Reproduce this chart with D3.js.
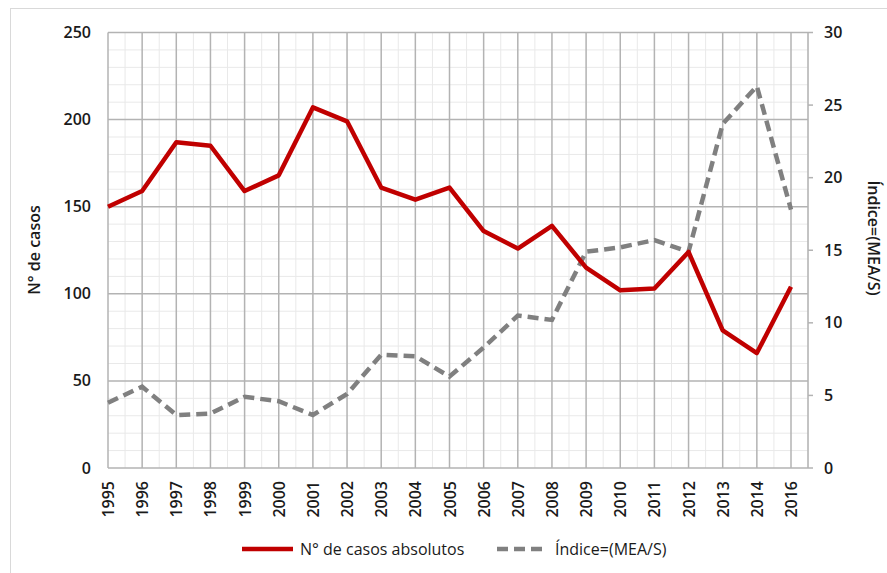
<!DOCTYPE html>
<html>
<head>
<meta charset="utf-8">
<script src="https://cdn.jsdelivr.net/npm/d3@7"></script>
<style>
  body { margin: 0; background: #fff; }
  svg { display: block; font-family: "Open Sans", "Noto Sans", sans-serif; }
</style>
</head>
<body>
<svg id="chart" width="887" height="573"></svg>
<script>
// Casos absolutos vs índice MEA/S
const years = ['1995', '1996', '1997', '1998', '1999', '2000', '2001', '2002', '2003', '2004',
    '2005', '2006', '2007', '2008', '2009', '2010', '2011', '2012', '2013', '2014', '2016'];
const casos = [150, 159, 187, 185, 159, 168, 207, 199, 161, 154,
    161, 136, 126, 139, 115, 102, 103, 124, 79, 66, 104];
const indice = [4.5, 5.6, 3.65, 3.75, 4.9, 4.6, 3.65, 5.1, 7.8, 7.7,
    6.3, 8.3, 10.5, 10.2, 14.9, 15.2, 15.7, 14.9, 23.7, 26.3, 17.8];
const leftTicks = [0, 50, 100, 150, 200, 250];
const rightTicks = [0, 5, 10, 15, 20, 25, 30];

const svg = d3.select('#chart');

const plot = { left: 108, right: 808, top: 32.5, bottom: 468 };

// outer frame
svg.append('rect')
    .attr('x', 10.5).attr('y', 8.5)
    .attr('width', 900).attr('height', 600)
    .attr('fill', 'none')
    .attr('stroke', '#d9d9d9');

const x = d3.scalePoint()
    .domain(years)
    .range([plot.left, plot.left + 20 * 34.15]);
const step = x.step();

const yL = d3.scaleLinear().domain([0, 250]).range([plot.bottom, plot.top]);
const yR = d3.scaleLinear().domain([0, 30]).range([plot.bottom, plot.top]);

const grid = svg.append('g');

// minor horizontal gridlines
grid.selectAll('.hminor')
    .data(d3.range(0, 251, 10).filter(v => v % 50 !== 0))
    .enter().append('line')
    .attr('x1', plot.left).attr('x2', plot.right)
    .attr('y1', d => yL(d)).attr('y2', d => yL(d))
    .attr('stroke', '#e9e9e9').attr('stroke-width', 1);

// minor vertical gridlines (half-year)
grid.selectAll('.vminor')
    .data(years)
    .enter().append('line')
    .attr('x1', d => x(d) + step / 2).attr('x2', d => x(d) + step / 2)
    .attr('y1', plot.top).attr('y2', plot.bottom)
    .attr('stroke', '#e9e9e9').attr('stroke-width', 1);

// major horizontal gridlines
grid.selectAll('.hmajor')
    .data(leftTicks)
    .enter().append('line')
    .attr('x1', plot.left).attr('x2', plot.right)
    .attr('y1', d => yL(d)).attr('y2', d => yL(d))
    .attr('stroke', '#b3b3b3').attr('stroke-width', 1.5);

// major vertical gridlines
grid.selectAll('.vmajor')
    .data(years)
    .enter().append('line')
    .attr('x1', d => x(d)).attr('x2', d => x(d))
    .attr('y1', plot.top).attr('y2', plot.bottom)
    .attr('stroke', '#b3b3b3').attr('stroke-width', 1.5);

// right axis line + ticks
svg.append('line')
    .attr('x1', plot.right).attr('x2', plot.right)
    .attr('y1', plot.top).attr('y2', plot.bottom)
    .attr('stroke', '#b3b3b3').attr('stroke-width', 1.5);
svg.selectAll('.rtick')
    .data(rightTicks)
    .enter().append('line')
    .attr('x1', plot.right).attr('x2', plot.right + 5)
    .attr('y1', d => yR(d)).attr('y2', d => yR(d))
    .attr('stroke', '#b3b3b3').attr('stroke-width', 1.5);

// tick labels
svg.selectAll('.llab')
    .data(leftTicks)
    .enter().append('text')
    .attr('x', 91).attr('y', d => yL(d) + 5.5)
    .attr('text-anchor', 'end')
    .attr('font-size', '16px').attr('font-weight', 600)
    .attr('fill', '#1a1a1a')
    .text(d => d);

svg.selectAll('.rlab')
    .data(rightTicks)
    .enter().append('text')
    .attr('x', 824).attr('y', d => yR(d) + 5.5)
    .attr('font-size', '16px').attr('font-weight', 600)
    .attr('fill', '#1a1a1a')
    .text(d => d);

svg.selectAll('.xlab')
    .data(years)
    .enter().append('text')
    .attr('transform', d => `translate(${x(d) + 6}, 481) rotate(-90)`)
    .attr('text-anchor', 'end')
    .attr('font-size', '16px').attr('font-weight', 600)
    .attr('fill', '#1a1a1a')
    .text(d => d);

// axis titles
svg.append('text')
    .attr('transform', 'translate(40, 250) rotate(-90)')
    .attr('text-anchor', 'middle')
    .attr('font-size', '16px').attr('font-weight', 600)
    .attr('fill', '#1a1a1a')
    .text('N° de casos');

svg.append('text')
    .attr('transform', 'translate(868, 238) rotate(90)')
    .attr('text-anchor', 'middle')
    .attr('font-size', '16px').attr('font-weight', 600)
    .attr('fill', '#1a1a1a')
    .text('Índice=(MEA/S)');

// series
const lineL = d3.line().x((d, i) => x(years[i])).y(d => yL(d));
const lineR = d3.line().x((d, i) => x(years[i])).y(d => yR(d));

svg.append('path')
    .datum(indice)
    .attr('d', lineR)
    .attr('fill', 'none')
    .attr('stroke', '#808080')
    .attr('stroke-width', 4.5)
    .attr('stroke-dasharray', '11,6');

svg.append('path')
    .datum(casos)
    .attr('d', lineL)
    .attr('fill', 'none')
    .attr('stroke', '#c00000')
    .attr('stroke-width', 4.5)
    .attr('stroke-linejoin', 'round');

// legend
const legendItems = [
    { label: 'N° de casos absolutos', color: '#c00000', dash: null, x: 242 },
    { label: 'Índice=(MEA/S)', color: '#808080', dash: '11,6', x: 497 }
];
const legend = svg.selectAll('.legend-item')
    .data(legendItems)
    .enter().append('g')
    .attr('transform', d => `translate(${d.x}, 549)`);

legend.append('line')
    .attr('x1', 0).attr('x2', 51)
    .attr('stroke', d => d.color)
    .attr('stroke-width', 4.5)
    .attr('stroke-dasharray', d => d.dash);

legend.append('text')
    .attr('x', 58).attr('y', 5.5)
    .attr('font-size', '16px')
    .attr('fill', '#1a1a1a')
    .text(d => d.label);
</script>
</body>
</html>
